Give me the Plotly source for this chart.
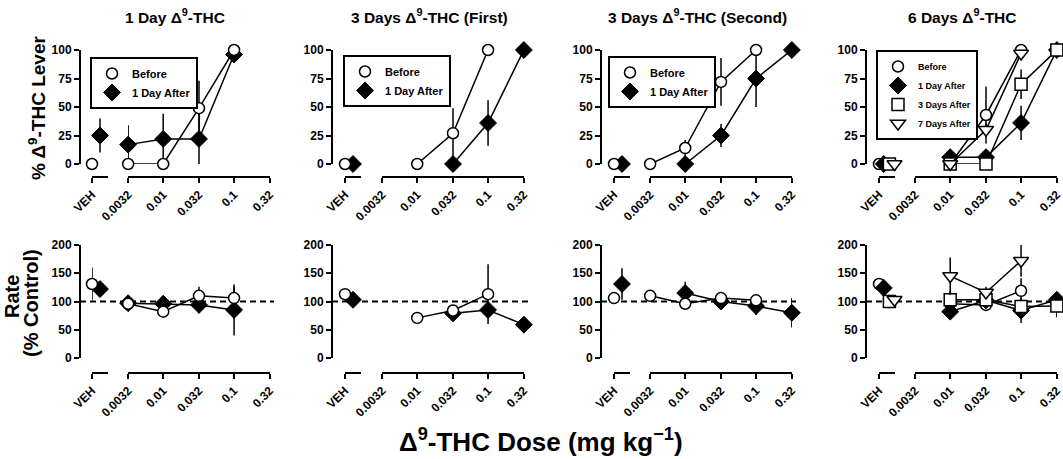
import math
import plotly.graph_objects as go

W, H = 1063, 459

# x groups: vehicle first, then Δ9-THC doses (mg/kg)
x_labels = ["VEH", "0.0032", "0.01", "0.032", "0.1", "0.32"]
doses = [0.0032, 0.01, 0.032, 0.1, 0.32]

panel_titles = [
    "1 Day Δ<sup>9</sup>-THC",
    "3 Days Δ<sup>9</sup>-THC (First)",
    "3 Days Δ<sup>9</sup>-THC (Second)",
    "6 Days Δ<sup>9</sup>-THC",
]
series_names = ["Before", "1 Day After", "3 Days After", "7 Days After"]

# values are [VEH, 0.0032, 0.01, 0.032, 0.1, 0.32]; None = not tested
# --- % Δ9-THC lever responding
lever_1d_before = [0, 0, 0, 49, 100, None]
lever_1d_before_sem = [0, 0, 0, 24, 0, None]
lever_1d_after = [25, 17, 22, 22, 96, None]
lever_1d_after_sem = [15, 17, 22, 22, 0, None]

lever_3a_before = [0, None, 0, 27, 100, None]
lever_3a_before_sem = [0, None, 0, 22, 0, None]
lever_3a_after = [0, None, None, 0, 36, 100]
lever_3a_after_sem = [0, None, None, 0, 20, 0]

lever_3b_before = [0, 0, 14, 72, 100, None]
lever_3b_before_sem = [0, 0, 7, 21, 0, None]
lever_3b_after = [0, None, 0, 25, 75, 100]
lever_3b_after_sem = [0, None, 0, 10, 25, 0]

lever_6d_before = [0, None, 0, 43, 100, None]
lever_6d_before_sem = [0, None, 0, 25, 0, None]
lever_6d_1after = [0, None, 6, 6, 36, 100]
lever_6d_1after_sem = [0, None, 0, 0, 15, 0]
lever_6d_3after = [0, None, 0, 0, 70, 100]
lever_6d_3after_sem = [0, None, 0, 0, 13, 0]
lever_6d_7after = [0, None, 0, 30, 97, None]
lever_6d_7after_sem = [0, None, 0, 6, 0, None]

# --- response rate (% control)
rate_1d_before = [131, 96, 82, 110, 106, None]
rate_1d_before_sem = [29, 10, 5, 16, 20, None]
rate_1d_after = [122, 97, 96, 94, 85, None]
rate_1d_after_sem = [12, 8, 6, 15, 45, None]

rate_3a_before = [113, None, 71, 84, 113, None]
rate_3a_before_sem = [3, None, 3, 5, 53, None]
rate_3a_after = [103, None, None, 79, 85, 59]
rate_3a_after_sem = [3, None, None, 6, 12, 15]

rate_3b_before = [106, 110, 96, 106, 102, None]
rate_3b_before_sem = [4, 4, 4, 4, 4, None]
rate_3b_after = [131, None, 115, 100, 92, 80]
rate_3b_after_sem = [28, None, 20, 6, 16, 26]

rate_6d_before = [131, None, 96, 94, 119, None]
rate_6d_before_sem = [5, None, 5, 5, 22, None]
rate_6d_1after = [124, None, 82, 102, 84, 103]
rate_6d_1after_sem = [5, None, 6, 5, 22, 5]
rate_6d_3after = [100, None, 103, 103, 91, 92]
rate_6d_3after_sem = [12, None, 15, 5, 5, 20]
rate_6d_7after = [103, None, 145, 116, 172, None]
rate_6d_7after_sem = [5, None, 33, 10, 28, None]

lever = [
    [(lever_1d_before, lever_1d_before_sem), (lever_1d_after, lever_1d_after_sem)],
    [(lever_3a_before, lever_3a_before_sem), (lever_3a_after, lever_3a_after_sem)],
    [(lever_3b_before, lever_3b_before_sem), (lever_3b_after, lever_3b_after_sem)],
    [(lever_6d_before, lever_6d_before_sem), (lever_6d_1after, lever_6d_1after_sem),
     (lever_6d_3after, lever_6d_3after_sem), (lever_6d_7after, lever_6d_7after_sem)],
]
rate = [
    [(rate_1d_before, rate_1d_before_sem), (rate_1d_after, rate_1d_after_sem)],
    [(rate_3a_before, rate_3a_before_sem), (rate_3a_after, rate_3a_after_sem)],
    [(rate_3b_before, rate_3b_before_sem), (rate_3b_after, rate_3b_after_sem)],
    [(rate_6d_before, rate_6d_before_sem), (rate_6d_1after, rate_6d_1after_sem),
     (rate_6d_3after, rate_6d_3after_sem), (rate_6d_7after, rate_6d_7after_sem)],
]

# styling / geometry (pixels)
yaxis_px = [80, 332, 601, 866]
veh_px = [92, 345, 614, 879]
dose_px = [128, 382, 650, 915]
veh_len, dose_len = 16, 142
veh_offset = [[0, 0.5], [0, 0.5], [0, 0.5], [0, 0.3, 0.65, 0.97]]
before_on_top = [True, True, True, False]
legend_px = [(90, 57), (343, 55), (608, 56), (876, 50)]
legend_font = [11, 11, 11, 9]
rows = [
    dict(top=50, bottom=164, axis=177, range=[0, 100], ticks=[0, 25, 50, 75, 100]),
    dict(top=245, bottom=358, axis=373, range=[0, 200], ticks=[0, 50, 100, 150, 200]),
]
markers = [
    dict(symbol="circle", size=11, color="white", line=dict(color="black", width=1.5)),
    dict(symbol="diamond", size=13, color="black", line=dict(color="black", width=1)),
    dict(symbol="square", size=12, color="white", line=dict(color="black", width=1.5)),
    dict(symbol="triangle-down", size=13, color="white", line=dict(color="black", width=1.5)),
]

FONT = "Liberation Sans, Arial, sans-serif"
tickfont = dict(family=FONT, size=12, color="black", weight="bold")
pad = 0.002  # tiny range padding so end points are not dropped


def px_x(v):
    return v / W


def px_y(v):
    return 1 - v / H


def ax_name(kind, i):
    return kind + ("" if i == 1 else str(i))


def label(text, x, y, size, angle=0):
    return dict(text=text, x=px_x(x), y=px_y(y), textangle=angle,
                xref="paper", yref="paper", xanchor="center", yanchor="middle",
                showarrow=False,
                font=dict(family=FONT, size=size, color="black", weight="bold"))


fig = go.Figure()
layout = dict(
    width=W, height=H, margin=dict(l=0, r=0, t=0, b=0, autoexpand=False),
    paper_bgcolor="white", plot_bgcolor="white", showlegend=True,
    font=dict(family=FONT, color="black"),
)
shapes, annotations = [], []

common_axis = dict(showline=True, linewidth=2, linecolor="black", ticks="outside",
                   ticklen=5, tickwidth=2, tickcolor="black", showgrid=False,
                   zeroline=False, tickfont=tickfont, anchor="free", automargin=False,
                   ticklabeloverflow="allow")

for r, row in enumerate(rows):
    data = lever if r == 0 else rate
    for p in range(4):
        k = r * 4 + p + 1
        yk = ax_name("y", k)
        vx, dx = 2 * k - 1, 2 * k
        lo, hi = row["range"]
        layout[ax_name("yaxis", k)] = dict(
            common_axis, domain=[px_y(row["bottom"]), px_y(row["top"])],
            range=[lo - pad, hi + pad], tickvals=row["ticks"], position=px_x(yaxis_px[p]))
        layout[ax_name("xaxis", vx)] = dict(
            common_axis, domain=[px_x(veh_px[p]), px_x(veh_px[p] + veh_len)],
            range=[0, 1], tickvals=[0], ticktext=[x_labels[0]], tickangle=-45,
            position=px_y(row["axis"]))
        layout[ax_name("xaxis", dx)] = dict(
            common_axis, domain=[px_x(dose_px[p]), px_x(dose_px[p] + dose_len)],
            type="log",
            range=[math.log10(doses[0]) - pad, math.log10(doses[-1]) + pad],
            tickvals=doses, ticktext=x_labels[1:], tickangle=-45,
            position=px_y(row["axis"]))

        leg = ax_name("legend", p + 1)
        order = range(len(data[p]))
        if before_on_top[p]:
            order = reversed(order)
        for s in order:
            vals, sem = data[p][s]
            mk = markers[s]
            err = dict(type="data", thickness=1.5, width=0, color="black")
            fig.add_trace(go.Scatter(
                x=[veh_offset[p][s]], y=[vals[0]], mode="markers",
                error_y=dict(err, array=[sem[0]]), marker=mk,
                name=series_names[s], legend=leg, legendrank=s + 1,
                showlegend=(r == 0), cliponaxis=False,
                xaxis=ax_name("x", vx), yaxis=yk))
            xs = [d for d, v in zip(doses, vals[1:]) if v is not None]
            ys = [v for v in vals[1:] if v is not None]
            es = [e for v, e in zip(vals[1:], sem[1:]) if v is not None]
            fig.add_trace(go.Scatter(
                x=xs, y=ys, mode="lines+markers",
                line=dict(color="black", width=1.5),
                error_y=dict(err, array=es), marker=mk,
                name=series_names[s], legend=leg, showlegend=False,
                cliponaxis=False, xaxis=ax_name("x", dx), yaxis=yk))

        if r == 0:
            lx, ly = legend_px[p]
            layout[leg] = dict(
                x=px_x(lx), y=px_y(ly), xanchor="left", yanchor="top",
                bordercolor="black", borderwidth=2, bgcolor="white",
                font=dict(family=FONT, size=legend_font[p], color="black", weight="bold"),
                tracegroupgap=0)
            annotations.append(label(panel_titles[p], dose_px[p] + 47, 16, 15.5))
        else:
            shapes.append(dict(
                type="line", xref="paper", yref=yk,
                x0=px_x(yaxis_px[p]), x1=px_x(dose_px[p] + dose_len + 4),
                y0=100, y1=100, layer="below",
                line=dict(color="black", width=2, dash="6px,4px")))

annotations += [
    label("% Δ<sup>9</sup>-THC Lever", 37, 108, 19, -90),
    label("Rate", 12, 297, 20, -90),
    label("(% Control)", 31, 303, 20, -90),
    label("Δ<sup>9</sup>-THC Dose (mg kg<sup>−1</sup>)", 541, 440, 26),
]
layout["shapes"] = shapes
layout["annotations"] = annotations
fig.update_layout(layout)

# page body has a default 8px margin; drop it so the figure sits at the origin
fig.write_html("out.html", config={"displayModeBar": False},
               post_script="document.body.style.margin='0px';")
